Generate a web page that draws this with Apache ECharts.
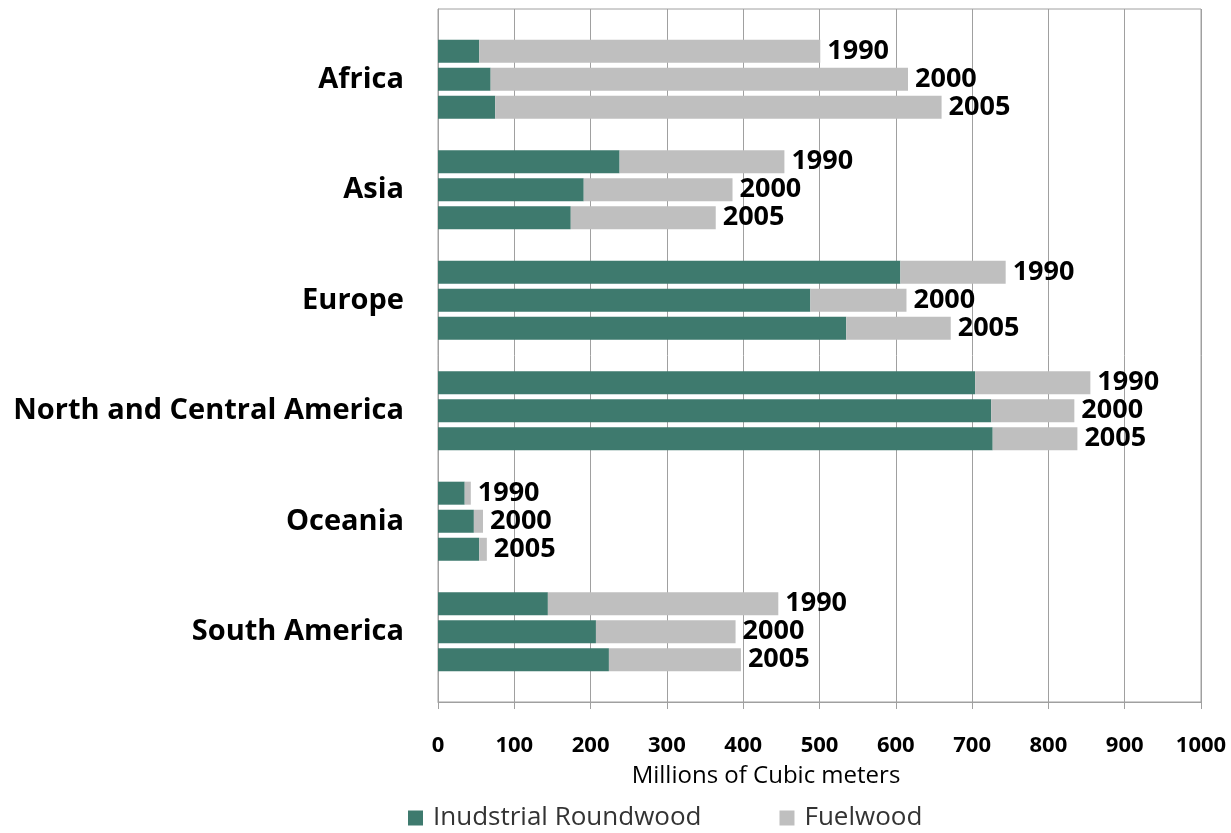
<!DOCTYPE html>
<html>
<head>
<meta charset="utf-8">
<script src="https://cdn.jsdelivr.net/npm/echarts@6/dist/echarts.min.js"></script>
<style>
  html, body { margin: 0; padding: 0; background: #ffffff; }
  #chart { width: 1231px; height: 833px; }
</style>
</head>
<body>
<div id="chart"></div>
<script>
// Wood removals by region, millions of cubic meters
const regions = ['Africa', 'Asia', 'Europe', 'North and Central America', 'Oceania', 'South America'];
const years = ['1990', '2000', '2005'];

const roundwood1990 = [54, 238, 606, 704, 35, 144];
const fuelwood1990  = [447, 216, 138, 151, 8, 302];
const roundwood2000 = [69, 191, 488, 725, 47, 207];
const fuelwood2000  = [547, 195, 126, 109, 12, 183];
const roundwood2005 = [75, 174, 535, 727, 54, 224];
const fuelwood2005  = [585, 190, 137, 111, 10, 173];

const xTicks = [0, 100, 200, 300, 400, 500, 600, 700, 800, 900, 1000];

const roundwoodByYear = [roundwood1990, roundwood2000, roundwood2005];
const fuelwoodByYear = [fuelwood1990, fuelwood2000, fuelwood2005];

const FONT = 'Open Sans';
const GREEN = '#3e7a6e';
const GREY = '#bfbfbf';
const LINE = '#a0a0a0';

const series = [];
years.forEach((yr, i) => {
  series.push({
    name: 'Inudstrial Roundwood',
    type: 'bar',
    xAxisIndex: 1,
    yAxisIndex: 1,
    stack: 'y' + yr,
    barWidth: 23,
    barGap: '22%',
    itemStyle: { color: GREEN },
    data: roundwoodByYear[i]
  });
  series.push({
    name: 'Fuelwood',
    type: 'bar',
    xAxisIndex: 1,
    yAxisIndex: 1,
    stack: 'y' + yr,
    barWidth: 23,
    barGap: '22%',
    itemStyle: { color: GREY },
    label: {
      show: true,
      position: 'right',
      distance: 7,
      formatter: () => yr,
      fontFamily: FONT,
      fontWeight: 'bold',
      fontSize: 27,
      color: '#000000'
    },
    data: fuelwoodByYear[i]
  });
});

const chart = echarts.init(document.getElementById('chart'), null, { renderer: 'canvas' });
chart.setOption({
  animation: false,
  backgroundColor: '#ffffff',
  textStyle: { fontFamily: FONT },
  legend: {
    data: ['Inudstrial Roundwood', 'Fuelwood'],
    left: 403,
    top: 800,
    icon: 'rect',
    itemWidth: 15,
    itemHeight: 15,
    itemGap: 78,
    textStyle: { fontFamily: FONT, fontSize: 26, color: '#333333', padding: [0, 0, 0, 5] }
  },
  graphic: [{
    type: 'text',
    x: 766,
    y: 776,
    style: {
      text: 'Millions of Cubic meters',
      fontFamily: FONT,
      fontSize: 24,
      fill: '#000000',
      textAlign: 'center',
      textVerticalAlign: 'middle'
    }
  }],
  grid: [
    // frame with value axis and gridlines
    { left: 438, right: 30, top: 9, bottom: 131, show: true, borderColor: LINE, borderWidth: 1 },
    // bar area, inset from the frame
    { left: 438, right: 30, top: 24, bottom: 146 }
  ],
  xAxis: [
    {
      gridIndex: 0,
      type: 'value',
      min: xTicks[0],
      max: xTicks[xTicks.length - 1],
      interval: 100,
      axisLine: { show: true, lineStyle: { color: LINE, width: 1 } },
      axisTick: { show: true, length: 7, lineStyle: { color: LINE } },
      splitLine: { show: true, lineStyle: { color: LINE, width: 1 } },
      axisLabel: {
        margin: 33,
        formatter: (v) => String(v),
        fontFamily: FONT,
        fontWeight: 'bold',
        fontSize: 22,
        color: '#000000'
      }
    },
    {
      gridIndex: 1,
      type: 'value',
      min: xTicks[0],
      max: xTicks[xTicks.length - 1],
      show: false
    }
  ],
  yAxis: [
    {
      gridIndex: 0,
      type: 'value',
      axisLine: { show: true, lineStyle: { color: LINE, width: 1 } },
      axisTick: { show: false },
      axisLabel: { show: false },
      splitLine: { show: false }
    },
    {
      gridIndex: 1,
      type: 'category',
      inverse: true,
      data: regions,
      axisLine: { show: false },
      axisTick: { show: false },
      splitLine: { show: false },
      axisLabel: {
        margin: 34,
        fontFamily: FONT,
        fontWeight: 'bold',
        fontSize: 29,
        color: '#000000'
      }
    }
  ],
  series: series
});
</script>
</body>
</html>
